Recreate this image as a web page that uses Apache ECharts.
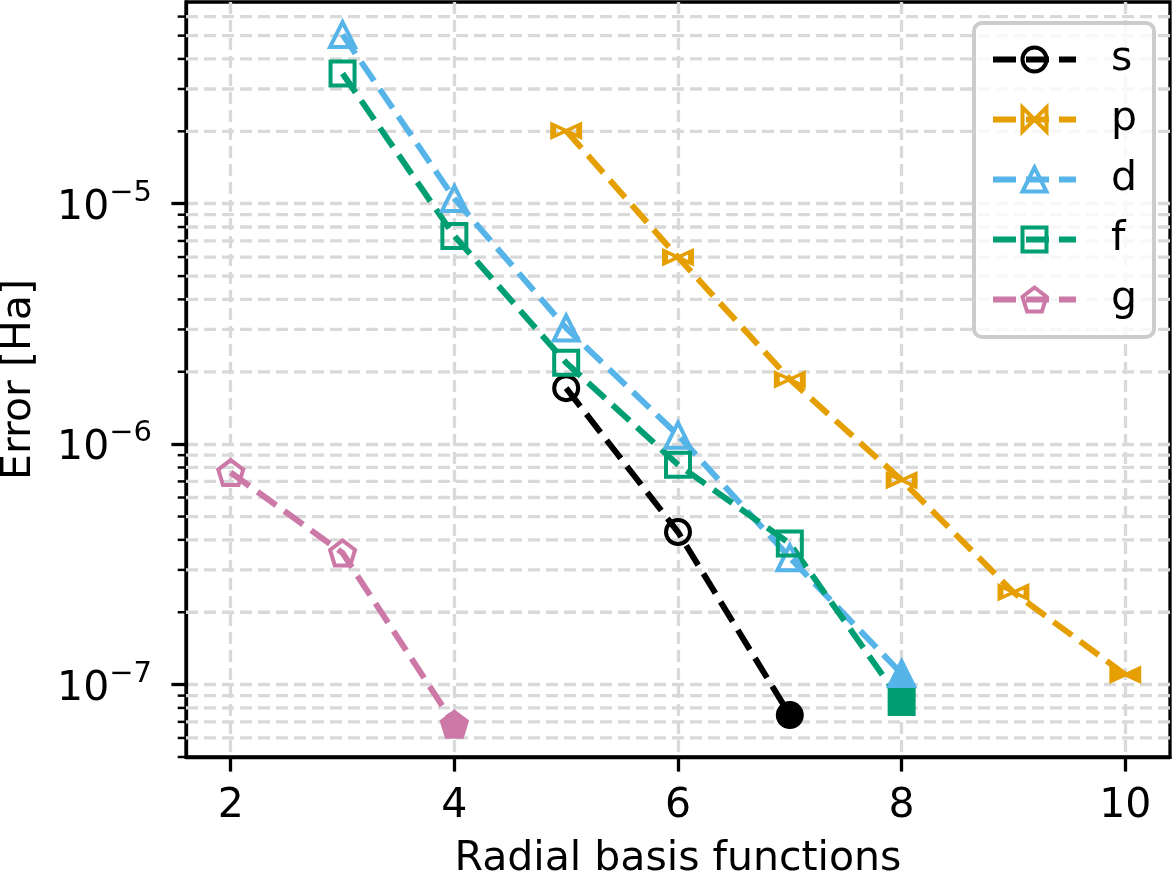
<!DOCTYPE html>
<html>
<head>
<meta charset="utf-8">
<script src="https://cdn.jsdelivr.net/npm/echarts@6/dist/echarts.min.js"></script>
<style>
  html, body { margin: 0; padding: 0; background: #fff; }
  #chart { width: 1173px; height: 877px; }
</style>
</head>
<body>
<div id="chart"></div>
<script>
// data (x = number of radial basis functions)
const xS = [5, 6, 7];
const errS = [1.71e-6, 4.31e-7, 7.47e-8];
const xP = [5, 6, 7, 8, 9, 10];
const errP = [2.01e-5, 5.99e-6, 1.86e-6, 7.08e-7, 2.42e-7, 1.10e-7];
const xD = [3, 4, 5, 6, 7, 8];
const errD = [5.05e-5, 1.05e-5, 3.04e-6, 1.09e-6, 3.37e-7, 1.11e-7];
const xF = [3, 4, 5, 6, 7, 8];
const errF = [3.48e-5, 7.34e-6, 2.18e-6, 8.22e-7, 3.86e-7, 8.46e-8];
const xG = [2, 3, 4];
const errG = [7.62e-7, 3.53e-7, 6.84e-8];

const xTicks = [2, 4, 6, 8, 10];
const yTicks = [1e-7, 1e-6, 1e-5];
const xRange = [1.6, 10.4];
const yRange = [5e-8, 6.9e-5];

const FONT = 'DejaVu Sans';
const gridColor = '#d9d9d9';

// minor decade ticks 2..9 x 10^n inside the y range
const minorTicks = [];
for (let e = -8; e <= -5; e++) {
  for (let m = 2; m <= 9; m++) {
    const v = m * Math.pow(10, e);
    if (v >= yRange[0] * 0.999 && v <= yRange[1]) minorTicks.push(v);
  }
}

const bowtie = 'path://M0,0 L1,0.5 L0,1 Z M2,0 L1,0.5 L2,1 Z';
const pentagon = 'path://M0,-1 L0.951,-0.309 L0.588,0.809 L-0.588,0.809 L-0.951,-0.309 Z';

function makeSeries(name, xs, ys, color, symbol, size) {
  const data = xs.map((x, i) => {
    const item = { value: [x, ys[i]] };
    // last point of every curve is drawn filled
    if (i === xs.length - 1) item.itemStyle = { color: color };
    return item;
  });
  return {
    name: name,
    type: 'line',
    data: data,
    symbol: symbol,
    symbolSize: size,
    showAllSymbol: true,
    lineStyle: { color: color, width: 6, type: [23, 10], cap: 'butt' },
    itemStyle: { color: 'transparent', borderColor: color, borderWidth: 4 },
    emphasis: { disabled: true },
    z: 3
  };
}

function renderMinor(params, api) {
  const pt = api.coord([api.value(0), api.value(1)]);
  const cs = params.coordSys;
  const children = [{
    type: 'line',
    shape: { x1: cs.x - 8.3, y1: pt[1], x2: cs.x, y2: pt[1] },
    style: { stroke: '#000', lineWidth: 2.5 }
  }];
  if (pt[1] < cs.y + cs.height - 2) {
    children.push({
      type: 'line',
      shape: { x1: cs.x, y1: pt[1], x2: cs.x + cs.width, y2: pt[1] },
      style: { stroke: gridColor, lineWidth: 3.3, lineDash: [12, 6] }
    });
  }
  return { type: 'group', children: children };
}

const chart = echarts.init(document.getElementById('chart'));
chart.setOption({
  animation: false,
  textStyle: { fontFamily: FONT },
  grid: {
    left: 186, right: 3, top: 2, bottom: 120,
    show: true, borderColor: '#000', borderWidth: 3.3,
    containLabel: false,
    outerBoundsMode: 'none'
  },
  legend: {
    data: ['s', 'p', 'd', 'f', 'g'],
    orient: 'vertical',
    left: 974,
    top: 23,
    padding: [16, 17, 17, 16],
    itemWidth: 83,
    itemHeight: 30,
    itemGap: 19,
    backgroundColor: 'rgba(255,255,255,0.8)',
    borderColor: '#cccccc',
    borderWidth: 4,
    borderRadius: 8,
    lineStyle: { width: 6, type: [23, 10], cap: 'butt' },
    itemStyle: { borderWidth: 4 },
    textStyle: { fontFamily: FONT, fontSize: 41, lineHeight: 41, color: '#000', padding: [0, 0, 0, 30] }
  },
  xAxis: {
    type: 'value',
    min: xRange[0],
    max: xRange[1],
    name: 'Radial basis functions',
    nameLocation: 'middle',
    nameGap: 82,
    nameTextStyle: { fontFamily: FONT, fontSize: 41, color: '#000', verticalAlign: 'top' },
    axisLine: { show: true, onZero: false, lineStyle: { color: '#000', width: 3.3 } },
    axisTick: { show: true, customValues: xTicks, length: 14.6, lineStyle: { color: '#000', width: 3.3 } },
    axisLabel: { customValues: xTicks, margin: 29, fontFamily: FONT, fontSize: 41, color: '#000' },
    splitLine: { show: true, lineStyle: { color: gridColor, width: 3.3, type: [12, 6] } }
  },
  yAxis: {
    type: 'log',
    logBase: 10,
    min: yRange[0],
    max: yRange[1],
    name: 'Error [Ha]',
    nameLocation: 'middle',
    nameGap: 146,
    nameTextStyle: { fontFamily: FONT, fontSize: 41, color: '#000' },
    axisLine: { show: true, onZero: false, lineStyle: { color: '#000', width: 3.3 } },
    axisTick: { show: true, customValues: yTicks, length: 14.6, lineStyle: { color: '#000', width: 3.3 } },
    axisLabel: {
      customValues: yTicks,
      margin: 34,
      formatter: function (v) {
        const e = Math.round(Math.log10(v));
        return '{b|10}{e|\u2212' + Math.abs(e) + '}';
      },
      rich: {
        b: { fontFamily: FONT, fontSize: 41, color: '#000', verticalAlign: 'bottom', lineHeight: 50 },
        e: { fontFamily: FONT, fontSize: 29, color: '#000', verticalAlign: 'top', lineHeight: 50 }
      }
    },
    splitLine: { show: true, lineStyle: { color: gridColor, width: 3.3, type: [12, 6] } }
  },
  series: [
    {
      name: 'minor',
      type: 'custom',
      renderItem: renderMinor,
      data: minorTicks.map(v => [xRange[0], v]),
      silent: true,
      clip: false,
      z: 1
    },
    makeSeries('s', xS, errS, '#000000', 'circle', 24),
    makeSeries('p', xP, errP, '#E69F00', bowtie, [26, 12]),
    makeSeries('d', xD, errD, '#56B4E9', 'triangle', 25),
    makeSeries('f', xF, errF, '#009E73', 'rect', 24),
    makeSeries('g', xG, errG, '#CC79A7', pentagon, 25)
  ]
});
</script>
</body>
</html>
